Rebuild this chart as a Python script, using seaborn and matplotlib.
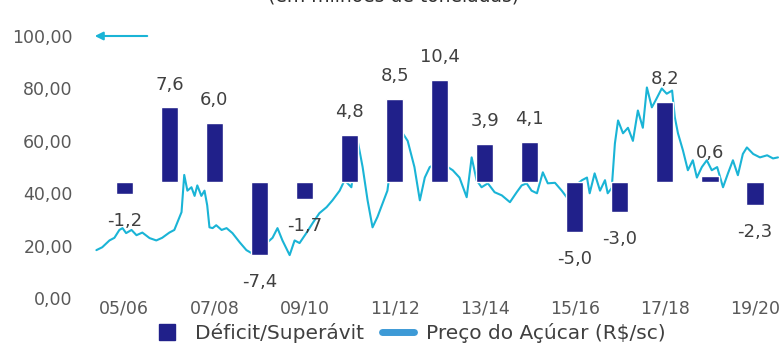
import numpy as np
import pandas as pd
import matplotlib
matplotlib.use("Agg")
import matplotlib.pyplot as plt
from matplotlib.lines import Line2D
from matplotlib.ticker import FuncFormatter
import seaborn as sns

# safras (deficit / superavit, milhoes de toneladas)
seasons = ["05/06", "06/07", "07/08", "08/09", "09/10", "10/11", "11/12", "12/13",
           "13/14", "14/15", "15/16", "16/17", "17/18", "18/19", "19/20"]
balance = [-1.2, 7.6, 6.0, -7.4, -1.7, 4.8, 8.5, 10.4, 3.9, 4.1, -5.0, -3.0, 8.2, 0.6, -2.3]

# preco do acucar (R$/sc), posicao em unidades de safra
price_pos = [-0.62, -0.49, -0.33, -0.22, -0.11, -0.04, 0.04, 0.16, 0.27, 0.40, 0.56, 0.71, 0.84,
             1.00, 1.11, 1.18, 1.27, 1.33, 1.40, 1.49, 1.56, 1.62, 1.71, 1.78, 1.84, 1.89, 1.96,
             2.04, 2.16, 2.27, 2.40, 2.56, 2.71, 2.84, 3.00, 3.16, 3.29, 3.40, 3.51, 3.67, 3.78,
             3.89, 4.04, 4.18, 4.33, 4.49, 4.62, 4.78, 4.89, 5.04, 5.18, 5.29, 5.40, 5.51, 5.62,
             5.73, 5.84, 5.89, 6.02, 6.18, 6.29, 6.44, 6.56, 6.67, 6.78, 7.00, 7.18, 7.29, 7.44,
             7.60, 7.71, 7.82, 7.93, 8.07, 8.22, 8.38, 8.56, 8.71, 8.82, 8.93, 9.04, 9.16, 9.29,
             9.40, 9.56, 9.71, 9.82, 9.96, 10.16, 10.27, 10.33, 10.44, 10.56, 10.67, 10.73, 10.82,
             10.89, 10.96, 11.07, 11.18, 11.29, 11.40, 11.51, 11.60, 11.71, 11.78, 11.93, 12.04,
             12.16, 12.22, 12.29, 12.40, 12.51, 12.62, 12.71, 12.82, 12.93, 13.04, 13.16, 13.29,
             13.40, 13.51, 13.62, 13.73, 13.82, 13.96, 14.11, 14.27, 14.40, 14.51]
price = [18.3, 19.4, 22.0, 23.0, 26.0, 26.7, 24.8, 26.0, 24.0, 25.0, 22.9, 22.0, 23.0,
         25.0, 26.0, 29.0, 32.8, 47.0, 41.0, 42.3, 39.0, 43.0, 39.0, 41.0, 35.4, 27.0, 26.7,
         27.8, 26.0, 26.7, 24.8, 21.3, 18.3, 17.0, 17.0, 21.0, 23.0, 26.7, 22.0, 16.4, 22.0,
         21.0, 24.8, 28.6, 32.4, 34.7, 37.3, 41.0, 45.0, 42.3, 60.0, 50.0, 37.3, 27.0, 31.0,
         36.0, 41.0, 47.6, 55.0, 62.9, 60.0, 50.0, 37.3, 46.0, 50.0, 52.0, 50.0, 48.8, 46.0,
         38.5, 53.7, 45.0, 42.3, 43.8, 40.4, 39.2, 36.6, 40.4, 43.0, 43.8, 41.0, 40.0, 48.0,
         43.8, 44.0, 41.0, 38.5, 42.3, 45.0, 46.0, 40.0, 47.6, 41.0, 45.0, 40.0, 42.0,
         59.0, 67.8, 62.9, 65.0, 60.0, 71.6, 65.0, 80.4, 72.8, 75.0, 80.0, 78.0,
         79.2, 69.0, 62.9, 56.4, 48.8, 52.6, 46.0, 50.0, 52.6, 48.8, 50.0, 42.3,
         47.6, 52.6, 46.9, 55.0, 57.5, 55.0, 53.7, 54.5, 53.3, 53.7]

navy = "#20208a"
cyan = "#1ab4d6"
grey = "#595959"

sns.set_theme(style="white")
plt.rcParams["font.family"] = ["DejaVu Sans"]

fig = plt.figure(figsize=(7.79, 3.47), dpi=100)
ax = fig.add_axes([0.122, 0.141, 0.879, 0.755])
ax2 = ax.twinx()

df_price = pd.DataFrame({"pos": price_pos, "price": price})
sns.lineplot(data=df_price, x="pos", y="price", ax=ax, color=cyan, lw=1.5)

df_bal = pd.DataFrame({"season": seasons, "balance": balance})
sns.barplot(data=df_bal, x="season", y="balance", ax=ax2, color=navy, width=0.38,
            saturation=1)

# alinhar o zero das barras com ~44,2 do eixo de preco
ax.set_ylim(0, 100)
base, scale = 44.2, 3.76
ax2.set_ylim(-base / scale, (100 - base) / scale)
ax.set_xlim(-0.65, 14.55)

for i, v in enumerate(balance):
    txt = f"{v:.1f}".replace(".", ",")
    if v >= 0:
        ax2.annotate(txt, (i, v), xytext=(0, 10), textcoords="offset points",
                     ha="center", va="bottom", fontsize=13, color="#404040")
    else:
        ax2.annotate(txt, (i, v), xytext=(0, -13), textcoords="offset points",
                     ha="center", va="top", fontsize=13, color="#404040")

ax.set_yticks(range(0, 101, 20))
ax.yaxis.set_major_formatter(FuncFormatter(lambda y, p: f"{y:.2f}".replace(".", ",")))
ax.set_xticks(range(0, 15, 2))
ax.set_xticklabels(seasons[::2])
ax.tick_params(axis="y", labelsize=12.5, labelcolor=grey, length=0, pad=16)
ax.tick_params(axis="x", labelsize=12.5, labelcolor=grey, length=0, pad=1)
ax2.set_yticks([])
ax.set_xlabel("")
ax.set_ylabel("")
ax2.set_xlabel("")
ax2.set_ylabel("")
for a in (ax, ax2):
    for s in a.spines.values():
        s.set_visible(False)

# seta indicando o eixo do preco
ax.annotate("", xy=(92, 347 - 36), xytext=(150, 347 - 36),
            xycoords="figure pixels", textcoords="figure pixels",
            arrowprops=dict(arrowstyle="-|>", color=cyan, lw=1.5, mutation_scale=12))

fig.text(0.505, 1 - 1 / 347, "(em milhões de toneladas)", ha="center", va="baseline",
         fontsize=13.5, color="#303030")

handles = [Line2D([], [], marker="s", color=navy, linestyle="none", markersize=11),
           Line2D([], [], color="#3d9ad6", lw=5)]
fig.legend(handles, ["Déficit/Superávit", "Preço do Açúcar (R$/sc)"], loc="center",
           bbox_to_anchor=(0.524, 0.04), ncol=2, frameon=False, fontsize=14.5,
           labelcolor="#404040", handlelength=1.6, handletextpad=0.6, columnspacing=0.9)

fig.savefig("out.png", dpi=100)
